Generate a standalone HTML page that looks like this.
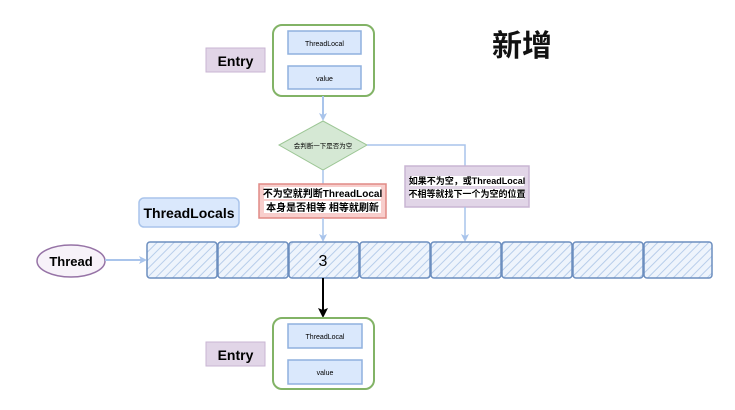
<!DOCTYPE html>
<html><head><meta charset="utf-8"><style>
body{margin:0;background:#fff;}
svg text{font-family:"Liberation Sans","Noto Sans CJK SC",sans-serif;}
</style></head><body>
<svg width="735" height="405" viewBox="0 0 735 405" xmlns="http://www.w3.org/2000/svg">
<defs>
<pattern id="h" width="6" height="6" patternUnits="userSpaceOnUse" patternTransform="rotate(45)">
<rect width="6" height="6" fill="#eef4fc"/><line x1="0" y1="0" x2="0" y2="6" stroke="#b7cdea" stroke-width="2"/>
</pattern>
<marker id="ab" markerWidth="8" markerHeight="8" refX="6" refY="4" orient="auto" markerUnits="userSpaceOnUse"><path d="M0,0 L8,4 L0,8 L2,4z" fill="#a9c4eb"/></marker>
<marker id="ak" markerWidth="10" markerHeight="10" refX="8" refY="5" orient="auto" markerUnits="userSpaceOnUse"><path d="M0,0 L10,5 L0,10 L2,5z" fill="#000"/></marker>
</defs>
<text x="492" y="56" font-size="30" font-weight="bold" fill="#111">新增</text>
<!-- top entry -->
<rect x="206" y="48" width="59" height="24" fill="#e1d5e7" stroke="#c9b5d3"/>
<text x="235.5" y="66" font-size="14" font-weight="bold" text-anchor="middle">Entry</text>
<rect x="273" y="25" width="101" height="71" rx="9" fill="#fff" stroke="#82b366" stroke-width="2"/>
<rect x="288" y="31" width="73" height="23" fill="#dae8fc" stroke="#8fb0de" stroke-width="1.5"/>
<text x="324.5" y="46" font-size="7" text-anchor="middle">ThreadLocal</text>
<rect x="288" y="66" width="73" height="23" fill="#dae8fc" stroke="#8fb0de" stroke-width="1.5"/>
<text x="324.5" y="81" font-size="7" text-anchor="middle">value</text>
<line x1="323" y1="96" x2="323" y2="119" stroke="#a9c4eb" stroke-width="2" marker-end="url(#ab)"/>
<polygon points="323,121 367,145 323,170 279,145" fill="#d5e8d4" stroke="#9cc695"/>
<text x="323" y="148" font-size="6.5" text-anchor="middle">会判断一下是否为空</text>
<polyline points="367,145 465,145 465,166" fill="none" stroke="#a9c4eb" stroke-width="1.5"/>
<line x1="323" y1="170" x2="323" y2="184" stroke="#a9c4eb" stroke-width="1.5"/>
<rect x="405" y="166" width="124" height="41" fill="#e1d5e7" stroke="#c9b5d3" stroke-width="1.5"/>
<rect x="410" y="176" width="114" height="10" fill="#fff"/><rect x="410" y="189" width="114" height="10" fill="#fff"/>
<text x="467" y="184" font-size="9" text-anchor="middle" font-weight="bold">如果不为空，或ThreadLocal</text>
<text x="467" y="197" font-size="9" text-anchor="middle" font-weight="bold">不相等就找下一个为空的位置</text>
<rect x="259" y="184" width="127" height="34" fill="#f8cecc" stroke="#e08a85" stroke-width="1.5"/>
<rect x="264" y="187" width="117" height="12" fill="#fff"/><rect x="264" y="201" width="117" height="12" fill="#fff"/>
<text x="322.5" y="197" font-size="10" text-anchor="middle" font-weight="bold">不为空就判断ThreadLocal</text>
<text x="322.5" y="211" font-size="10" text-anchor="middle" font-weight="bold">本身是否相等 相等就刷新</text>
<line x1="323" y1="218" x2="323" y2="240" stroke="#a9c4eb" stroke-width="1.5" marker-end="url(#ab)"/>
<line x1="465" y1="207" x2="465" y2="240" stroke="#a9c4eb" stroke-width="1.5" marker-end="url(#ab)"/>
<rect x="139" y="198" width="100" height="29" rx="5" fill="#dae8fc" stroke="#a9c4eb" stroke-width="1.5"/>
<text x="189" y="218" font-size="14" font-weight="bold" text-anchor="middle">ThreadLocals</text>
<!-- cells -->
<g stroke="#6c8ebf" stroke-width="1.5" fill="url(#h)">
<rect x="147" y="242" width="70" height="36" rx="3"/>
<rect x="218" y="242" width="70" height="36" rx="3"/>
<rect x="289" y="242" width="70" height="36" rx="3"/>
<rect x="360" y="242" width="70" height="36" rx="3"/>
<rect x="431" y="242" width="70" height="36" rx="3"/>
<rect x="502" y="242" width="70" height="36" rx="3"/>
<rect x="573" y="242" width="70" height="36" rx="3"/>
<rect x="644" y="242" width="68" height="36" rx="3"/>
</g>
<text x="323" y="266" font-size="16" text-anchor="middle">3</text>
<ellipse cx="71" cy="261" rx="34" ry="16" fill="#f7f2f9" stroke="#9673a6" stroke-width="1.5"/>
<text x="71" y="266" font-size="13" font-weight="bold" text-anchor="middle">Thread</text>
<line x1="105" y1="260" x2="145" y2="260" stroke="#a9c4eb" stroke-width="2" marker-end="url(#ab)"/>
<line x1="323" y1="278" x2="323" y2="316" stroke="#000" stroke-width="2" marker-end="url(#ak)"/>
<!-- bottom entry -->
<rect x="206" y="342" width="59" height="24" fill="#e1d5e7" stroke="#c9b5d3"/>
<text x="235.5" y="360" font-size="14" font-weight="bold" text-anchor="middle">Entry</text>
<rect x="273" y="318" width="101" height="71" rx="9" fill="#fff" stroke="#82b366" stroke-width="2"/>
<rect x="288" y="324" width="74" height="24" fill="#dae8fc" stroke="#8fb0de" stroke-width="1.5"/>
<text x="325" y="339" font-size="7" text-anchor="middle">ThreadLocal</text>
<rect x="288" y="360" width="74" height="24" fill="#dae8fc" stroke="#8fb0de" stroke-width="1.5"/>
<text x="325" y="375" font-size="7" text-anchor="middle">value</text>
</svg>
</body></html>
